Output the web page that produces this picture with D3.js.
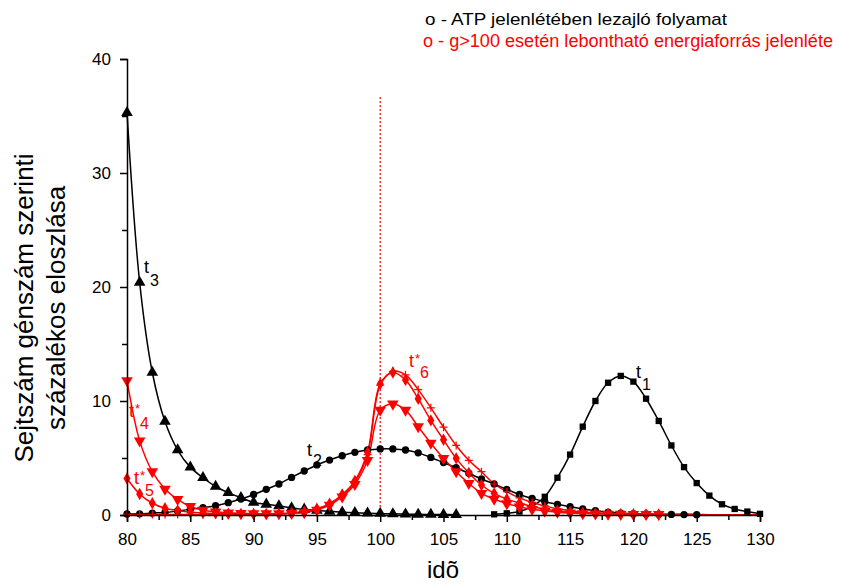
<!DOCTYPE html>
<html>
<head>
<meta charset="utf-8">
<script src="https://cdn.jsdelivr.net/npm/d3@7"></script>
<style>
html,body{margin:0;padding:0;background:#fff;}
svg{display:block;font-family:"Liberation Sans",Arial,sans-serif;}
</style>
</head>
<body>
<svg id="chart" width="845" height="585"></svg>
<script>
// ---- data ----
const xTicks = [80, 85, 90, 95, 100, 105, 110, 115, 120, 125, 130];
const yTicks = [0, 10, 20, 30, 40];
const markerLine = 100;
const markerLineTop = 36.8;

// t1 (squares) starts at x=109
const t1Start = 109;
const t1 = [0.06,0.15,0.3,0.75,1.6,3.27,5.3,7.75,10.0,11.6,12.2,11.7,10.2,8.25,6.1,4.2,2.8,1.7,0.94,0.53,0.3,0.1];
// t2 (circles) starts at x=80
const t2Start = 80;
const t2 = [0.09,0.1,0.17,0.22,0.35,0.5,0.65,0.82,1.08,1.4,1.8,2.25,2.72,3.3,3.86,4.39,4.82,5.2,5.5,5.7,5.8,5.8,5.7,5.45,5.05,4.6,4.15,3.66,3.16,2.72,2.25,1.8,1.46,1.17,0.94,0.73,0.53,0.38,0.26,0.17,0.12,0.09,0.07,0.05,0.04,0.03];
// t3 (triangles up) starts at x=80
const t3Start = 80;
const t3 = [35.3,20.4,12.5,8.2,5.7,4.2,3.27,2.5,1.96,1.52,1.1,0.94,0.79,0.62,0.5,0.4,0.32,0.25,0.2,0.16,0.13,0.1,0.08,0.06,0.05,0.04,0.03];
// red series start at x=80, markers up to x=122
const redStart = 80;
const redMarkerEnd = 122;
const t4s = [11.8,6.5,3.8,2.28,1.37,0.75,0.42,0.28,0.2,0.15,0.12,0.12,0.13,0.15,0.22,0.44,0.88,1.6,2.7,4.8,9.2,9.74,9.2,7.75,6.3,4.97,3.8,2.78,1.9,1.4,1.0,0.72,0.5,0.35,0.25,0.18,0.13,0.1,0.08,0.07,0.06,0.05,0.05,0.04,0.04,0.03,0.03,0.03,0.02,0.02,0.02];
const t5s = [3.2,1.84,1.03,0.6,0.4,0.25,0.18,0.14,0.12,0.1,0.1,0.1,0.12,0.18,0.3,0.55,1.0,1.8,3.0,5.5,11.5,12.5,11.85,10.2,8.3,6.6,4.97,3.7,2.63,1.9,1.4,1.05,0.75,0.52,0.36,0.25,0.18,0.13,0.1,0.08,0.07,0.06,0.05,0.04,0.04,0.03,0.03,0.03,0.02,0.02,0.02];
const t6s = [0.05,0.05,0.05,0.05,0.05,0.05,0.05,0.05,0.05,0.05,0.05,0.05,0.08,0.15,0.28,0.5,0.95,1.7,2.9,5.3,11.4,12.6,12.3,11.0,9.4,7.7,6.1,4.8,3.8,2.72,2.05,1.5,1.1,0.8,0.55,0.38,0.27,0.19,0.14,0.1,0.08,0.06,0.05,0.05,0.04,0.04,0.03,0.03,0.02,0.02,0.02];

const legendLines = ["o - ATP jelenlétében lezajló folyamat", "o - g>100 esetén lebontható energiaforrás jelenléte"];
const xTitle = "idõ";
const yTitle = ["Sejtszám génszám szerinti", "százalékos eloszlása"];

// ---- layout ----
const svg = d3.select("#chart");
const x = d3.scaleLinear().domain([80, 130]).range([127, 760]);
const y = d3.scaleLinear().domain([0, 40]).range([515, 59]);
const RED = "#ff0000";

function pts(start, arr) { return arr.map((v, i) => ({x: start + i, y: v})); }
const line = d3.line().x(d => x(d.x)).y(d => y(d.y)).curve(d3.curveCatmullRom.alpha(0.5));

// dotted vertical line
svg.append("line")
  .attr("x1", x(markerLine)).attr("x2", x(markerLine))
  .attr("y1", y(0)).attr("y2", y(markerLineTop))
  .attr("stroke", RED).attr("stroke-width", 1.2).attr("stroke-dasharray", "2,2");

const series = [
  {data: pts(t1Start, t1), color: "#000", sym: "square"},
  {data: pts(t2Start, t2), color: "#000", sym: "circle"},
  {data: pts(t3Start, t3), color: "#000", sym: "triUp"},
  {data: pts(redStart, t4s), color: RED, sym: "triDown", maxX: redMarkerEnd},
  {data: pts(redStart, t5s), color: RED, sym: "diamond", maxX: redMarkerEnd},
  {data: pts(redStart, t6s), color: RED, sym: "plus", maxX: redMarkerEnd}
];

series.forEach(s => {
  svg.append("path").attr("d", line(s.data))
    .attr("fill", "none").attr("stroke", s.color).attr("stroke-width", 1.5);
});

series.forEach(s => {
  const g = svg.append("g");
  const md = s.data.filter(d => s.maxX === undefined || d.x <= s.maxX);
  md.forEach(d => {
    const cx = x(d.x), cy = y(d.y);
    if (s.sym === "square") {
      g.append("path").attr("d", d3.symbol(d3.symbolSquare, 40)()).attr("transform", `translate(${cx},${cy})`).attr("fill", s.color);
    } else if (s.sym === "circle") {
      g.append("path").attr("d", d3.symbol(d3.symbolCircle, 42)()).attr("transform", `translate(${cx},${cy})`).attr("fill", s.color);
    } else if (s.sym === "triUp") {
      g.append("path").attr("d", d3.symbol(d3.symbolTriangle, 58)()).attr("transform", `translate(${cx},${cy})`).attr("fill", s.color);
    } else if (s.sym === "triDown") {
      g.append("path").attr("d", d3.symbol(d3.symbolTriangle, 58)()).attr("transform", `translate(${cx},${cy}) rotate(180)`).attr("fill", s.color);
    } else if (s.sym === "diamond") {
      g.append("path").attr("d", d3.symbol(d3.symbolDiamond, 44)()).attr("transform", `translate(${cx},${cy})`).attr("fill", s.color);
    } else if (s.sym === "plus") {
      g.append("path").attr("d", "M-4,0H4M0,-4V4").attr("transform", `translate(${cx},${cy})`).attr("stroke", s.color).attr("stroke-width", 1.2).attr("fill", "none");
    }
  });
});

// axes
const xAxis = d3.axisBottom(x).tickValues(xTicks).tickSize(7).tickPadding(7).tickFormat(d3.format("d"));
const gx = svg.append("g").attr("transform", `translate(0,${y(0)})`).call(xAxis);
const xMinor = d3.axisBottom(x).tickValues(d3.range(82.5, 130, 5)).tickSize(5).tickFormat("");
svg.append("g").attr("transform", `translate(0,${y(0)})`).call(xMinor).select(".domain").remove();

const yAxis = d3.axisLeft(y).tickValues(yTicks).tickSize(7).tickPadding(9).tickFormat(d3.format("d"));
const gy = svg.append("g").attr("transform", `translate(${x(80)},0)`).call(yAxis);
const yMinor = d3.axisLeft(y).tickValues([5, 15, 25, 35]).tickSize(5).tickFormat("");
svg.append("g").attr("transform", `translate(${x(80)},0)`).call(yMinor).select(".domain").remove();

svg.selectAll(".domain").attr("stroke", "#000").attr("stroke-width", 1.5);
svg.selectAll(".tick line").attr("stroke", "#000").attr("stroke-width", 1.5);
svg.selectAll(".tick text").attr("font-size", 17).attr("fill", "#000")
  .attr("font-family", "'Liberation Sans', Arial, sans-serif");
gx.selectAll(".tick text").attr("dy", "0.95em");

// axis titles
svg.append("text").attr("x", 443).attr("y", 578).attr("text-anchor", "middle")
  .attr("font-size", 24).text(xTitle);
yTitle.forEach((t, i) => {
  svg.append("text").attr("transform", `translate(${33 + i * 32},308) rotate(-90)`)
    .attr("text-anchor", "middle").attr("font-size", 26).text(t);
});

// legend
svg.append("text").attr("x", 425).attr("y", 25).attr("font-size", 17).attr("fill", "#000")
  .attr("textLength", 302).attr("lengthAdjust", "spacingAndGlyphs").text(legendLines[0]);
svg.append("text").attr("x", 423).attr("y", 47).attr("font-size", 17.5).attr("fill", RED)
  .attr("textLength", 410).attr("lengthAdjust", "spacingAndGlyphs").text(legendLines[1]);

// curve labels
function lbl(tx, ty, star, sub, sx, sy, color) {
  const g = svg.append("g").attr("font-size", 18);
  g.append("text").attr("x", tx).attr("y", ty).attr("fill", color).text("t");
  if (star) g.append("text").attr("x", tx + 6).attr("y", ty - 4).attr("font-size", 13).attr("fill", color).text("*");
  g.append("text").attr("x", sx).attr("y", sy).attr("font-size", 16).attr("fill", color).text(sub);
}
lbl(144, 273, false, "3", 150, 286, "#000");
lbl(129, 417, true, "4", 140, 429, RED);
lbl(134, 484, true, "5", 145, 496, RED);
lbl(409, 367, true, "6", 420, 378, RED);
lbl(307, 456, false, "2", 313, 466, "#000");
lbl(636, 378, false, "1", 642, 390, "#000");
</script>
</body>
</html>
